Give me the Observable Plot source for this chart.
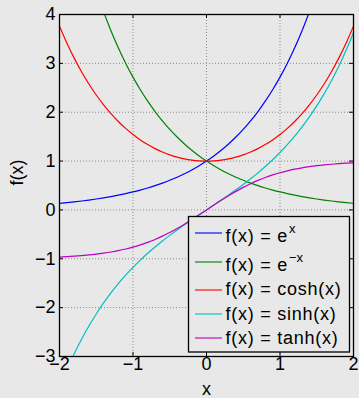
<!DOCTYPE html>
<html>
<head>
<meta charset="utf-8">
<script src="https://cdn.jsdelivr.net/npm/d3@7"></script>
<script src="https://cdn.jsdelivr.net/npm/@observablehq/plot@0.6"></script>
<style>
  html, body { margin: 0; padding: 0; background: #e8e8e8; }
  #wrap { position: relative; width: 359px; height: 398px; overflow: hidden; }
  #legend { position: absolute; left: 0; top: 0; pointer-events: none; }
</style>
</head>
<body>
<div id="wrap"></div>
<script>
// Sample points x = -2 … 2 (step 0.1)
const xs = [-2,-1.9,-1.8,-1.7,-1.6,-1.5,-1.4,-1.3,-1.2,-1.1,-1,-0.9,-0.8,-0.7,-0.6,-0.5,-0.4,-0.3,-0.2,-0.1,0,
            0.1,0.2,0.3,0.4,0.5,0.6,0.7,0.8,0.9,1,1.1,1.2,1.3,1.4,1.5,1.6,1.7,1.8,1.9,2];

const expPos = [0.1353,0.1496,0.1653,0.1827,0.2019,0.2231,0.2466,0.2725,0.3012,0.3329,0.3679,0.4066,0.4493,0.4966,0.5488,0.6065,0.6703,0.7408,0.8187,0.9048,1,
                1.1052,1.2214,1.3499,1.4918,1.6487,1.8221,2.0138,2.2255,2.4596,2.7183,3.0042,3.3201,3.6693,4.0552,4.4817,4.9530,5.4739,6.0496,6.6859,7.3891];
const expNeg = [7.3891,6.6859,6.0496,5.4739,4.9530,4.4817,4.0552,3.6693,3.3201,3.0042,2.7183,2.4596,2.2255,2.0138,1.8221,1.6487,1.4918,1.3499,1.2214,1.1052,1,
                0.9048,0.8187,0.7408,0.6703,0.6065,0.5488,0.4966,0.4493,0.4066,0.3679,0.3329,0.3012,0.2725,0.2466,0.2231,0.2019,0.1827,0.1653,0.1496,0.1353];
const coshVals = [3.7622,3.4177,3.1075,2.8283,2.5775,2.3524,2.1509,1.9709,1.8107,1.6685,1.5431,1.4331,1.3374,1.2552,1.1855,1.1276,1.0811,1.0453,1.0201,1.0050,1,
                  1.0050,1.0201,1.0453,1.0811,1.1276,1.1855,1.2552,1.3374,1.4331,1.5431,1.6685,1.8107,1.9709,2.1509,2.3524,2.5775,2.8283,3.1075,3.4177,3.7622];
const sinhVals = [-3.6269,-3.2682,-2.9422,-2.6456,-2.3756,-2.1293,-1.9043,-1.6984,-1.5095,-1.3356,-1.1752,-1.0265,-0.8881,-0.7586,-0.6367,-0.5211,-0.4108,-0.3045,-0.2013,-0.1002,0,
                  0.1002,0.2013,0.3045,0.4108,0.5211,0.6367,0.7586,0.8881,1.0265,1.1752,1.3356,1.5095,1.6984,1.9043,2.1293,2.3756,2.6456,2.9422,3.2682,3.6269];
const tanhVals = [-0.9640,-0.9562,-0.9468,-0.9354,-0.9217,-0.9051,-0.8854,-0.8617,-0.8337,-0.8005,-0.7616,-0.7163,-0.6640,-0.6044,-0.5370,-0.4621,-0.3799,-0.2913,-0.1974,-0.0997,0,
                  0.0997,0.1974,0.2913,0.3799,0.4621,0.5370,0.6044,0.6640,0.7163,0.7616,0.8005,0.8337,0.8617,0.8854,0.9051,0.9217,0.9354,0.9468,0.9562,0.9640];

const seriesNames  = ["exp", "expneg", "cosh", "sinh", "tanh"];
const seriesValues = [expPos, expNeg, coshVals, sinhVals, tanhVals];
const seriesColors = ["#0000ff", "#008000", "#ff0000", "#00bfbf", "#bf00bf"];

const xTicks = [-2, -1, 0, 1, 2];
const yTicks = [-3, -2, -1, 0, 1, 2, 3, 4];

// Long-format table for the line marks
const rows = seriesNames.flatMap((name, i) =>
  xs.map((x, j) => ({name, x, y: seriesValues[i][j]})));

const W = 359, H = 398;
const mL = 59, mR = 6, mT = 14, mB = 42;
const innerW = W - mL - mR, innerH = H - mT - mB;
const tickLen = 4;
const font = "'Liberation Sans', Arial, Helvetica, sans-serif";

const grid = {stroke: "#8c8c8c", strokeOpacity: 1, strokeWidth: 1, strokeDasharray: "1,2"};

const chart = Plot.plot({
  width: W, height: H,
  marginLeft: mL, marginRight: mR, marginTop: mT, marginBottom: mB,
  style: {background: "transparent", fontFamily: font, fontSize: "18px", color: "black"},
  x: {domain: [-2, 2]},
  y: {domain: [-3, 4]},
  marks: [
    Plot.gridX(xTicks.slice(1, -1), grid),
    Plot.gridY(yTicks.slice(1, -1), grid),
    ...seriesNames.map((name, i) =>
      Plot.line(rows.filter(d => d.name === name), {
        x: "x", y: "y", stroke: seriesColors[i], strokeWidth: 1.2,
        curve: "natural", clip: true
      })),
    Plot.frame({stroke: "black", strokeWidth: 1.3}),
    // inward ticks on all four sides
    Plot.tickX(xTicks, {x: d => d, insetTop: innerH - tickLen, stroke: "black"}),
    Plot.tickX(xTicks, {x: d => d, insetBottom: innerH - tickLen, stroke: "black"}),
    Plot.tickY(yTicks, {y: d => d, insetRight: innerW - tickLen, stroke: "black"}),
    Plot.tickY(yTicks, {y: d => d, insetLeft: innerW - tickLen, stroke: "black"}),
    Plot.axisX(xTicks, {tickSize: 0, tickPadding: 1, fontSize: 18, label: null}),
    Plot.axisY(yTicks, {tickSize: 0, tickPadding: 4, fontSize: 18, label: null}),
    Plot.text(["x"], {text: d => d, frameAnchor: "bottom", dy: 38, fontSize: 18}),
    Plot.text(["f(x)"], {text: d => d, frameAnchor: "left", rotate: -90, dx: -42, fontSize: 18})
  ]
});

const wrap = document.getElementById("wrap");
wrap.appendChild(chart);

// Legend box
const legendLabels = [
  {base: "f(x) = e", sup: "x"},
  {base: "f(x) = e", sup: "\u2212x"},
  {base: "f(x) = cosh(x)", sup: null},
  {base: "f(x) = sinh(x)", sup: null},
  {base: "f(x) = tanh(x)", sup: null}
];
const legendLineY = [233, 262, 290, 314, 338];
const legendTextY = [241.5, 270.5, 295, 319.5, 343.5];

const svg = d3.select(wrap).append("svg")
  .attr("id", "legend")
  .attr("width", W).attr("height", H)
  .style("font-family", font);

svg.append("rect")
  .attr("x", 188.5).attr("y", 216.5)
  .attr("width", 161).attr("height", 135.5)
  .attr("fill", "#e8e8e8").attr("stroke", "black").attr("stroke-width", 1.3);

legendLabels.forEach((lab, i) => {
  svg.append("line")
    .attr("x1", 195).attr("x2", 222)
    .attr("y1", legendLineY[i]).attr("y2", legendLineY[i])
    .attr("stroke", seriesColors[i]).attr("stroke-width", 1.5).attr("stroke-opacity", 0.75);
  const t = svg.append("text")
    .attr("x", 225.5).attr("y", legendTextY[i])
    .attr("font-size", 18).attr("letter-spacing", 0.75)
    .attr("fill", "black");
  t.append("tspan").text(lab.base);
  if (lab.sup) {
    t.append("tspan").attr("dy", -8.5).attr("dx", 1).attr("font-size", 13).attr("letter-spacing", 0).text(lab.sup);
  }
});
</script>
</body>
</html>
